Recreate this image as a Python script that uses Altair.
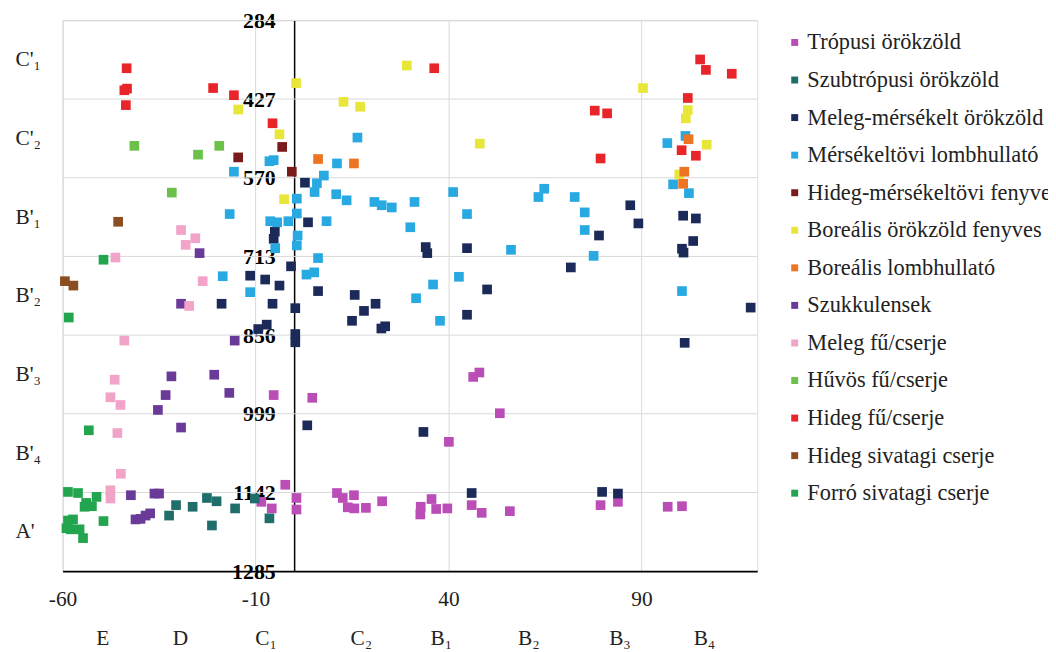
import altair as alt
import pandas as pd

SERIES = [
    "Trópusi örökzöld", "Szubtrópusi örökzöld", "Meleg-mérsékelt örökzöld",
    "Mérsékeltövi lombhullató", "Hideg-mérsékeltövi fenyves", "Boreális örökzöld fenyves",
    "Boreális lombhullató", "Szukkulensek", "Meleg fű/cserje", "Hűvös fű/cserje",
    "Hideg fű/cserje", "Hideg sivatagi cserje", "Forró sivatagi cserje",
]
COLORS = ["#BA4DB6", "#1F6E6B", "#1C2A5A", "#29A9E1", "#7A1B1B", "#E9E63A",
          "#EC7423", "#6A3A98", "#F2A3C8", "#6CC14B", "#E8262A", "#8B4E22", "#22A54E"]

tropusi_x = [-5.3, 4.7, 46.4, 48.0, 53.3, 40.1, -2.3, -8.5, -5.8, 0.6, 0.6, 11.1, 12.6, 15.5, 13.9,
             15.6, 18.6, 22.8, 32.8, 32.7, 35.6, 36.8, 39.7, 46.0, 48.6, 55.9, 79.4, 83.9, 96.8, 100.5]
tropusi_y = [965, 970, 932, 924, 998, 1050, 1128, 1159, 1171, 1152, 1173, 1143, 1152, 1147, 1169,
             1171, 1170, 1158, 1168, 1182, 1154, 1172, 1171, 1165, 1179, 1176, 1165, 1159, 1168, 1167]

szubtrop_x = [-32.4, -30.6, -26.3, -22.6, -20.1, -21.3, -15.3, -10.2, -6.4]
szubtrop_y = [1184, 1165, 1168, 1152, 1158, 1202, 1171, 1153, 1189]

meleg_mers_x = [2.8, 3.6, -5.0, -5.3, -0.8, -11.4, -7.5, -3.8, 6.2, -18.8, -5.6, 0.3, 15.7, 18.1, 21.1,
                15.0, 22.6, 23.6, -7.1, -9.3, 0.3, 0.3, 3.4, 34.1, 34.5, 44.8, 50.0, 44.8, 33.5, 46.0,
                79.8, 83.9, 87.1, 89.2, 79.0, 71.7, 100.8, 104.1, 103.4, 100.5, 100.9, 118.3, 101.2]
meleg_mers_y = [579, 651, 668, 681, 731, 748, 755, 766, 776, 799, 799, 807, 783, 812, 799,
                830, 844, 840, 837, 845, 854, 869, 1020, 696, 707, 698, 773, 819, 1032, 1143,
                1141, 1144, 620, 653, 675, 733, 639, 644, 685, 699, 706, 806, 870]

lombhull_x = [-15.6, -6.4, -5.3, -16.7, -6.2, -4.4, -1.5, 0.7, 0.7, 0.9, 0.7, -4.9, -18.5, -11.4, 6.2,
              3.2, 5.2, 8.4, 10.9, 13.6, 5.3, 5.9, 7.7, 11.1, 16.4, 20.8, 22.7, 25.3, 31.2, 30.1,
              41.2, 44.8, 56.2, 42.7, 36.0, 31.6, 37.8, 63.3, 64.8, 72.7, 75.3, 75.3, 77.6, 96.7, 101.4,
              98.2, 102.3, 100.5]
lombhull_y = [559, 540, 538, 636, 649, 651, 649, 635, 608, 675, 693, 698, 749, 778, 716,
              746, 742, 649, 600, 611, 596, 580, 566, 544, 497, 614, 620, 624, 614, 660,
              596, 636, 701, 750, 764, 789, 830, 605, 590, 605, 633, 665, 712, 507, 494,
              582, 598, 776]

hideg_mers_x = [-3.1, -14.5, -0.6]
hideg_mers_y = [514, 533, 559]

boreal_orok_x = [0.5, -14.5, -3.8, -2.6, 12.8, 17.1, 29.2, 48.1, 90.4, 102.0, 101.5, 106.9, 99.8]
boreal_orok_y = [398, 446, 491, 609, 432, 441, 366, 508, 407, 447, 462, 510, 564]

boreal_lomb_x = [6.2, 15.5, 102.2, 101.1, 100.8]
boreal_lomb_y = [536, 544, 500, 559, 581]

szukk_x = [-24.5, -29.3, -15.4, -31.8, -20.7, -33.3, -16.8, -35.3, -29.3, -42.3, -36.2, -35.0,
           -41.1, -39.8, -38.5, -37.3]
szukk_y = [707, 799, 866, 931, 928, 965, 961, 992, 1024, 1147, 1144, 1144, 1191, 1190, 1184, 1180]

meleg_fu_x = [-46.3, -29.3, -25.6, -28.1, -23.7, -27.2, -44.0, -46.5, -47.6, -45.0, -45.8, -44.9, -47.6, -47.6]
meleg_fu_y = [715, 665, 680, 692, 758, 803, 866, 937, 969, 983, 1034, 1108, 1138, 1153]

huvos_x = [-41.4, -24.9, -19.4, -31.7]
huvos_y = [512, 528, 512, 597]

hideg_fu_x = [-43.4, -44.0, -43.3, -43.6, -21.0, -15.6, -5.6, 36.3, 77.9, 81.1, 79.4, 105.2, 106.7,
              113.4, 102.0, 100.4, 104.1]
hideg_fu_y = [371, 411, 408, 438, 407, 420, 471, 371, 448, 453, 535, 355, 374, 381, 425, 520, 530]

hideg_siv_x = [-45.6, -59.4, -57.2]
hideg_siv_y = [650, 758, 766]

forro_x = [-49.4, -58.4, -53.2, -58.6, -56.0, -53.9, -52.4, -54.3, -51.2, -49.4, -58.6, -57.3,
           -59.0, -57.9, -55.6, -54.7]
forro_y = [719, 824, 1029, 1141, 1143, 1161, 1167, 1168, 1150, 1194, 1193, 1191, 1207, 1209, 1209, 1225]

XS = [tropusi_x, szubtrop_x, meleg_mers_x, lombhull_x, hideg_mers_x, boreal_orok_x,
      boreal_lomb_x, szukk_x, meleg_fu_x, huvos_x, hideg_fu_x, hideg_siv_x, forro_x]
YS = [tropusi_y, szubtrop_y, meleg_mers_y, lombhull_y, hideg_mers_y, boreal_orok_y,
      boreal_lomb_y, szukk_y, meleg_fu_y, huvos_y, hideg_fu_y, hideg_siv_y, forro_y]

Y_TICKS = [284, 427, 570, 713, 856, 999, 1142, 1285]
X_TICKS = [-60, -10, 40, 90]
X_CAT_POS = [-49.7, -29.6, -7.4, 17.3, 38.0, 60.7, 84.3, 106.2]
X_CAT_LAB = ["E", "D", "C\u2081", "C\u2082", "B\u2081", "B\u2082", "B\u2083", "B\u2084"]
Y_CAT_POS = [355.5, 498.5, 641.5, 784.5, 927.5, 1070.5, 1213.5]
Y_CAT_LAB = ["C'\u2081", "C'\u2082", "B'\u2081", "B'\u2082", "B'\u2083", "B'\u2084", "A'"]

rows = []
for name, xs, ys in zip(SERIES, XS, YS):
    for xv, yv in zip(xs, ys):
        rows.append({"series": name, "x": xv, "y": yv})
df = pd.DataFrame(rows)

FONT = "Liberation Serif"
W, H = 700, 555
X_MIN, X_MAX = -60, 120
Y_MIN, Y_MAX = 284, 1285
zero_offset = -W * (0 - X_MIN) / (X_MAX - X_MIN)

xsc = alt.Scale(domain=[X_MIN, X_MAX], nice=False, zero=False)
ysc = alt.Scale(domain=[Y_MIN, Y_MAX], reverse=True, nice=False, zero=False)

x_axis = alt.Axis(values=X_TICKS, orient="bottom", grid=True, gridColor="#d9d9d9", gridWidth=1,
                  domain=True, domainColor="#000000", domainWidth=1.6, ticks=False, tickSize=0,
                  labelFont=FONT, labelFontSize=21.5, labelColor="#222222", labelPadding=18,
                  labelFlush=False, title=None, labelExpr="'' + datum.value")
y_axis = alt.Axis(values=Y_TICKS, orient="left", offset=zero_offset, grid=False,
                  domain=True, domainColor="#000000", domainWidth=1.5, ticks=False, tickSize=0,
                  labelFont=FONT, labelFontWeight="bold", labelFontSize=22, labelColor="#000000",
                  labelPadding=19, title=None, labelExpr="'' + datum.value")

grid = alt.Chart(pd.DataFrame({"v": Y_TICKS[:-1]})).mark_rule(
    color="#d9d9d9", strokeWidth=1
).encode(y=alt.Y("v:Q", scale=ysc, axis=y_axis))

points = alt.Chart(df).mark_square(size=95, opacity=1).encode(
    x=alt.X("x:Q", scale=xsc, axis=x_axis),
    y=alt.Y("y:Q", scale=ysc, axis=y_axis),
    color=alt.Color(
        "series:N",
        scale=alt.Scale(domain=SERIES, range=COLORS),
        legend=alt.Legend(
            title=None, orient="none", legendX=726.5, legendY=11, padding=0,
            symbolType="square", symbolSize=49, symbolOpacity=1, symbolStrokeWidth=0,
            labelFont=FONT, labelFontSize=22.5, labelColor="#222222", labelOffset=1.5,
            labelLimit=500, rowPadding=14.85,
        ),
    ),
)

main = alt.layer(grid, points)

x_lab_expr = "[" + ",".join('"%s"' % s for s in X_CAT_LAB) + "][indexof([" + \
    ",".join(str(v) for v in X_CAT_POS) + "], datum.value)]"
y_lab_expr = "[" + ",".join('"%s"' % s for s in Y_CAT_LAB) + "][indexof([" + \
    ",".join(str(v) for v in Y_CAT_POS) + "], datum.value)]"

xcat = alt.Chart(pd.DataFrame({"p": X_CAT_POS})).mark_point(opacity=0).encode(
    x=alt.X("p:Q", scale=alt.Scale(domain=[X_MIN, X_MAX], nice=False, zero=False),
            axis=alt.Axis(values=X_CAT_POS, orient="bottom", labelExpr=x_lab_expr, grid=False,
                          domain=False, ticks=False, tickSize=0, labelPadding=57,
                          labelFont=FONT, labelFontSize=21.5, labelColor="#222222",
                          labelFlush=False, title=None))
)

ycat = alt.Chart(pd.DataFrame({"q": Y_CAT_POS})).mark_point(opacity=0).encode(
    y=alt.Y("q:Q", scale=alt.Scale(domain=[Y_MIN, Y_MAX], reverse=True, nice=False, zero=False),
            axis=alt.Axis(values=Y_CAT_POS, orient="left", labelExpr=y_lab_expr, grid=False,
                          domain=False, ticks=False, tickSize=0, labelPadding=48,
                          labelAlign="left", labelFont=FONT, labelFontSize=21.5,
                          labelColor="#222222", title=None))
)

chart = alt.layer(main, xcat, ycat).resolve_scale(
    x="independent", y="independent"
).properties(
    width=W, height=H,
    padding={"left": 55, "top": 10, "right": 293, "bottom": 79},
    autosize=alt.AutoSizeParams(type="none"),
).configure_view(stroke=None).configure(background="white")

chart.save("out.html", embed_options={"renderer": "svg", "actions": False})
